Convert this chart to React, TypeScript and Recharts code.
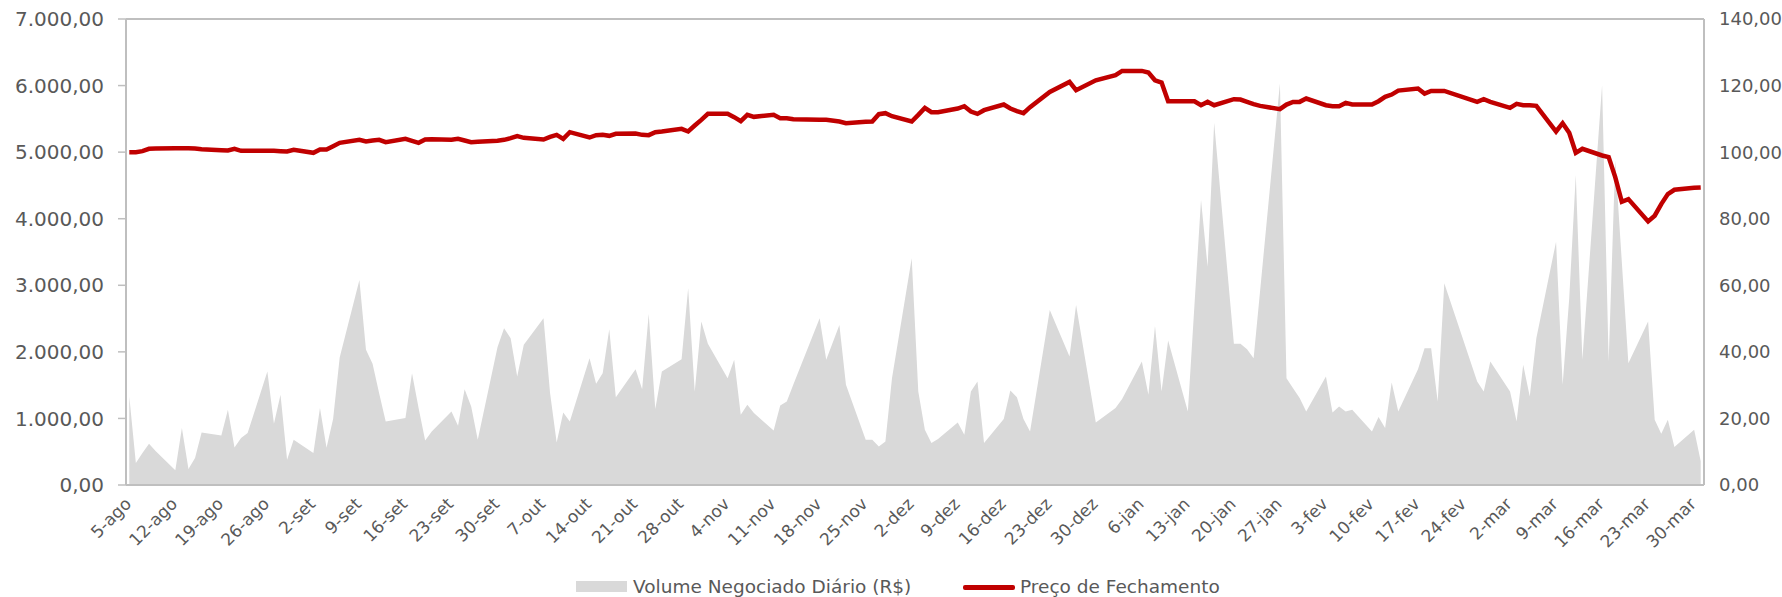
import { ComposedChart, Area, Line, XAxis, YAxis, ReferenceLine, Legend } from 'recharts';

const FONT = '"DejaVu Sans", sans-serif';
const TEXT = '#595959';
const BORDER = '#BFBFBF';

// [dia, volume negociado diário (R$ mil), preço de fechamento (base 100)]
const ago19: [number, number, number][] = [
  [5, 1330, 100.0], [6, 330, 100.0], [7, 480, 100.3], [8, 620, 101.0], [9, 510, 101.1],
  [12, 220, 101.2], [13, 855, 101.2], [14, 240, 101.2], [15, 405, 101.1], [16, 790, 100.9],
  [19, 745, 100.6], [20, 1130, 100.5], [21, 565, 101.0], [22, 705, 100.4], [23, 780, 100.4],
  [26, 1705, 100.4], [27, 920, 100.4], [28, 1355, 100.3], [29, 380, 100.2], [30, 680, 100.7],
];
const set19: [number, number, number][] = [
  [2, 480, 99.8], [3, 1155, 100.8], [4, 560, 100.8], [5, 990, 101.8], [6, 1915, 102.8],
  [9, 3080, 103.7], [10, 2030, 103.2], [11, 1820, 103.5], [12, 1380, 103.7], [13, 955, 103.0],
  [16, 1005, 104.0], [17, 1680, 103.4], [18, 1155, 102.8], [19, 670, 103.8], [20, 805, 103.9],
  [23, 1105, 103.7], [24, 890, 104.0], [25, 1440, 103.5], [26, 1180, 103.0], [27, 680, 103.1],
  [30, 2070, 103.4],
];
const out19: [number, number, number][] = [
  [1, 2355, 103.7], [2, 2205, 104.2], [3, 1630, 104.8], [4, 2105, 104.3],
  [7, 2505, 103.8], [8, 1380, 104.6], [9, 640, 105.2], [10, 1090, 104.0], [11, 955, 106.0],
  [14, 1905, 104.4], [15, 1520, 105.1], [16, 1680, 105.2], [17, 2340, 104.9], [18, 1320, 105.5],
  [21, 1740, 105.6], [22, 1440, 105.2], [23, 2570, 105.1], [24, 1140, 106.0], [25, 1705, 106.2],
  [28, 1890, 107.0], [29, 2955, 106.2], [30, 1405, 108.0], [31, 2455, 109.7],
];
const nov19: [number, number, number][] = [
  [1, 2120, 111.5],
  [4, 1605, 111.5], [5, 1880, 110.5], [6, 1055, 109.3], [7, 1205, 111.2], [8, 1080, 110.6],
  [11, 820, 111.2], [12, 1195, 110.2], [13, 1255, 110.2], [14, 1510, 109.9],
  [18, 2505, 109.7], [19, 1880, 109.7], [21, 2405, 109.2], [22, 1505, 108.7],
  [25, 680, 109.1], [26, 680, 109.2], [27, 580, 111.4], [28, 655, 111.7], [29, 1605, 110.8],
];
const dez19: [number, number, number][] = [
  [2, 3405, 109.2], [3, 1405, 111.2], [4, 830, 113.3], [5, 630, 112.0], [6, 690, 112.0],
  [9, 940, 113.1], [10, 755, 113.8], [11, 1405, 112.2], [12, 1555, 111.5], [13, 630, 112.6],
  [16, 990, 114.3], [17, 1420, 113.1], [18, 1320, 112.3], [19, 990, 111.7], [20, 805, 113.5],
  [23, 2630, 118.1], [26, 1930, 121.1], [27, 2705, 118.6], [30, 940, 121.6],
];
const jan20: [number, number, number][] = [
  [2, 1155, 123.1], [3, 1290, 124.4],
  [6, 1855, 124.4], [7, 1355, 123.9], [8, 2390, 121.6], [9, 1405, 120.9], [10, 2170, 115.3],
  [13, 1105, 115.3], [14, 2700, 115.3], [15, 4280, 114.1], [16, 3280, 115.1], [17, 5440, 114.1],
  [20, 2120, 115.9], [21, 2120, 115.8], [22, 2040, 115.1], [23, 1905, 114.4], [24, 2930, 113.9],
  [27, 6030, 112.9], [28, 1605, 114.3], [29, 1455, 115.1], [30, 1305, 115.1], [31, 1105, 116.1],
];
const fev20: [number, number, number][] = [
  [3, 1630, 114.1], [4, 1090, 113.8], [5, 1180, 113.8], [6, 1105, 114.8], [7, 1130, 114.3],
  [10, 805, 114.3], [11, 1020, 115.3], [12, 855, 116.6], [13, 1540, 117.3], [14, 1105, 118.5],
  [17, 1740, 119.1], [18, 2055, 117.6], [19, 2055, 118.4], [20, 1255, 118.4], [21, 3030, 118.4],
  [26, 1555, 115.1], [27, 1405, 115.9], [28, 1855, 115.1],
];
const mar20: [number, number, number][] = [
  [2, 1405, 113.3], [3, 955, 114.5], [4, 1805, 114.1], [5, 1330, 114.1], [6, 2205, 113.9],
  [9, 3655, 106.2], [10, 1505, 108.7], [11, 2800, 105.8], [12, 4655, 99.8], [13, 1880, 101.0],
  [16, 6005, 99.0], [17, 1855, 98.5], [18, 4880, 92.5], [19, 3350, 85.1], [20, 1830, 85.9],
  [23, 2455, 79.2], [24, 980, 80.9], [25, 770, 84.4], [26, 980, 87.4], [27, 570, 88.7],
  [30, 830, 89.3], [31, 355, 89.4],
];

const months: [number, number, [number, number, number][]][] = [
  [2019, 7, ago19], [2019, 8, set19], [2019, 9, out19], [2019, 10, nov19],
  [2019, 11, dez19], [2020, 0, jan20], [2020, 1, fev20], [2020, 2, mar20],
];

const tickLabels = [
  '5-ago', '12-ago', '19-ago', '26-ago', '2-set', '9-set', '16-set', '23-set', '30-set',
  '7-out', '14-out', '21-out', '28-out', '4-nov', '11-nov', '18-nov', '25-nov',
  '2-dez', '9-dez', '16-dez', '23-dez', '30-dez', '6-jan', '13-jan', '20-jan', '27-jan',
  '3-fev', '10-fev', '17-fev', '24-fev', '2-mar', '9-mar', '16-mar', '23-mar', '30-mar',
];

const volTicks = [0, 1000, 2000, 3000, 4000, 5000, 6000, 7000];
const priceTicks = [0, 20, 40, 60, 80, 100, 120, 140];

const START = Date.UTC(2019, 7, 5);
const DAY = 86400000;

const data = months.flatMap(([y, m, rows]) =>
  rows.map(([d, volume, price]) => ({
    day: (Date.UTC(y, m, d) - START) / DAY,
    volume,
    price,
  }))
);

// one tick a week, starting on 5-ago
const tickDays = tickLabels.map((_, i) => i * 7);

const fmt = (v: number) => {
  const [i, f] = v.toFixed(2).split('.');
  return i.replace(/\B(?=(\d{3})+(?!\d))/g, '.') + ',' + f;
};

function DateTick({ x, y, payload }: any) {
  const label = tickLabels[Math.round(payload.value / 7)] ?? '';
  const ax = x + 3;
  const ay = y + 18;
  return (
    <text
      x={ax}
      y={ay}
      transform={`rotate(-45 ${ax} ${ay})`}
      textAnchor="end"
      fill={TEXT}
      fontSize={17}
      fontFamily={FONT}
    >
      {label}
    </text>
  );
}

function ChartLegend() {
  return (
    <div style={{ position: 'relative', height: 26, fontFamily: FONT, fontSize: 18.5, color: TEXT }}>
      <div style={{ position: 'absolute', left: 576, top: 7, width: 51, height: 11, background: '#D9D9D9' }} />
      <span style={{ position: 'absolute', left: 633, top: 0, lineHeight: '26px', whiteSpace: 'nowrap' }}>
        Volume Negociado Diário (R$)
      </span>
      <div style={{ position: 'absolute', left: 963, top: 11, width: 52, height: 5, background: '#C00000', borderRadius: 2 }} />
      <span style={{ position: 'absolute', left: 1020, top: 0, lineHeight: '26px', whiteSpace: 'nowrap' }}>
        Preço de Fechamento
      </span>
    </div>
  );
}

export default function App() {
  return (
    <div style={{ position: 'absolute', left: 0, top: 0, background: '#fff' }}>
      <ComposedChart
        width={1782}
        height={597}
        data={data}
        margin={{ top: 19, right: 0, bottom: 0, left: 0 }}
      >
        <XAxis
          dataKey="day"
          type="number"
          domain={[-0.5, 239.5]}
          ticks={tickDays}
          interval={0}
          allowDataOverflow
          height={112}
          tickLine={false}
          tickSize={0}
          axisLine={{ stroke: BORDER, strokeWidth: 2 }}
          tick={<DateTick />}
        />
        <YAxis
          yAxisId="vol"
          domain={[0, 7000]}
          ticks={volTicks}
          width={126}
          tickSize={8}
          tickMargin={14}
          tickLine={{ stroke: BORDER, strokeWidth: 1.5 }}
          axisLine={{ stroke: BORDER, strokeWidth: 2 }}
          tickFormatter={fmt}
          tick={{ fill: TEXT, fontSize: 20, fontFamily: FONT }}
        />
        <YAxis
          yAxisId="price"
          orientation="right"
          domain={[0, 140]}
          ticks={priceTicks}
          width={78}
          tickSize={0}
          tickMargin={15}
          tickLine={false}
          axisLine={{ stroke: BORDER, strokeWidth: 2 }}
          tickFormatter={fmt}
          tick={{ fill: TEXT, fontSize: 18, fontFamily: FONT, textAnchor: 'start' }}
        />
        <ReferenceLine yAxisId="vol" y={7000} stroke={BORDER} strokeWidth={2} />
        <Area
          yAxisId="vol"
          dataKey="volume"
          type="linear"
          fill="#D9D9D9"
          fillOpacity={1}
          stroke="none"
          isAnimationActive={false}
        />
        <Line
          yAxisId="price"
          dataKey="price"
          type="linear"
          stroke="#C00000"
          strokeWidth={4.5}
          dot={false}
          activeDot={false}
          isAnimationActive={false}
        />
        <Legend
          verticalAlign="middle"
          wrapperStyle={{ top: 574, left: 0, width: 1782, height: 26 }}
          content={() => <ChartLegend />}
        />
      </ComposedChart>
    </div>
  );
}
